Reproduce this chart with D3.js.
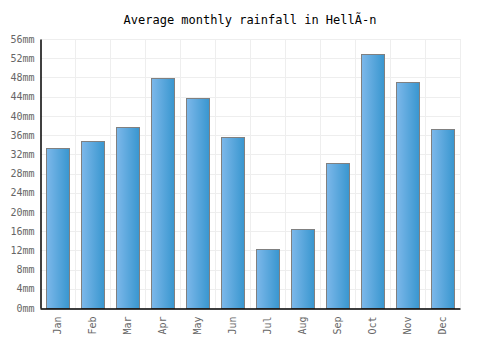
<!DOCTYPE html>
<html>
<head>
<meta charset="utf-8">
<script src="https://cdn.jsdelivr.net/npm/d3@7"></script>
<style>
  body { margin: 0; background: #fff; }
  text { font-family: "DejaVu Sans Mono", monospace; }
</style>
</head>
<body>
<div id="chart"></div>
<script>
var months = ["Jan", "Feb", "Mar", "Apr", "May", "Jun", "Jul", "Aug", "Sep", "Oct", "Nov", "Dec"];
var rainfall = [33.3, 34.7, 37.6, 47.8, 43.7, 35.5, 12.2, 16.4, 30.1, 52.8, 47.0, 37.2];
var yTicks = [0, 4, 8, 12, 16, 20, 24, 28, 32, 36, 40, 44, 48, 52, 56];

var width = 500, height = 350;
var margin = {top: 39, right: 40, bottom: 42, left: 41};

var svg = d3.select('#chart')
    .append('svg')
    .attr('width', width)
    .attr('height', height);

var defs = svg.append('defs');
var grad = defs.append('linearGradient')
    .attr('id', 'barGrad')
    .attr('x1', '0%').attr('x2', '100%')
    .attr('y1', '0%').attr('y2', '0%');
grad.append('stop').attr('offset', '0%').attr('stop-color', '#7db8ea');
grad.append('stop').attr('offset', '100%').attr('stop-color', '#3896cf');

var x = d3.scaleBand()
    .domain(months)
    .range([margin.left - 1, width - margin.right])
    .paddingInner(0.33)
    .paddingOuter(0.165);

var bandEdges = d3.scaleBand().domain(months).range([margin.left - 1, width - margin.right]);

var y = d3.scaleLinear()
    .domain([0, 56])
    .range([height - margin.bottom, margin.top]);

var g = svg.append('g');

// grid
g.selectAll('.hgrid')
  .data(yTicks)
  .enter().append('line')
  .attr('x1', margin.left)
  .attr('x2', width - margin.right)
  .attr('y1', function(d){ return Math.round(y(d)) + 0.5 })
  .attr('y2', function(d){ return Math.round(y(d)) + 0.5 })
  .attr('stroke', '#eeeeee');

g.selectAll('.vgrid')
  .data(months)
  .enter().append('line')
  .attr('x1', function(d){ return Math.round(bandEdges(d) + bandEdges.bandwidth()) + 0.5 })
  .attr('x2', function(d){ return Math.round(bandEdges(d) + bandEdges.bandwidth()) + 0.5 })
  .attr('y1', margin.top)
  .attr('y2', height - margin.bottom)
  .attr('stroke', '#eeeeee');

// bars
g.selectAll('rect')
  .data(rainfall)
  .enter().append('rect')
  .attr('x', function(d, i){ return Math.round(x(months[i])) + 0.5 })
  .attr('y', function(d){ return Math.round(y(d)) + 0.5 })
  .attr('width', Math.round(x.bandwidth()))
  .attr('height', function(d){ return Math.round(y(0)) - Math.round(y(d)) })
  .attr('fill', 'url(#barGrad)')
  .attr('stroke', '#808080')
  .attr('stroke-width', 1);

// y axis
var yAxis = d3.axisLeft(y)
    .tickValues(yTicks)
    .tickSize(0)
    .tickPadding(6)
    .tickFormat(function(d){ return d + 'mm' });

var ya = svg.append('g')
    .attr('transform', 'translate(' + (margin.left - 0.5) + ',0)')
    .call(yAxis);
ya.select('.domain').attr('stroke', '#000').attr('stroke-width', 1.5);
ya.selectAll('text').attr('fill', '#666').style('font-size', '10px')
    .style('font-family', '"DejaVu Sans Mono", monospace');

// x axis
var xAxis = d3.axisBottom(x).tickSize(0).tickPadding(8);
var xa = svg.append('g')
    .attr('transform', 'translate(0,' + (height - margin.bottom + 0.5) + ')')
    .call(xAxis);
xa.select('.domain').attr('stroke', '#000').attr('stroke-width', 1.5);
xa.selectAll('text')
    .attr('fill', '#666')
    .style('font-size', '10px')
    .style('font-family', '"DejaVu Sans Mono", monospace')
    .attr('transform', 'rotate(-90)')
    .attr('text-anchor', 'end')
    .attr('x', -8)
    .attr('y', 0)
    .attr('dy', '0.35em');

// title
svg.append('text')
    .attr('x', width / 2)
    .attr('y', 24)
    .attr('text-anchor', 'middle')
    .attr('font-size', 12)
    .attr('fill', '#000')
    .text('Average monthly rainfall in HellÃ-n');
</script>
</body>
</html>
